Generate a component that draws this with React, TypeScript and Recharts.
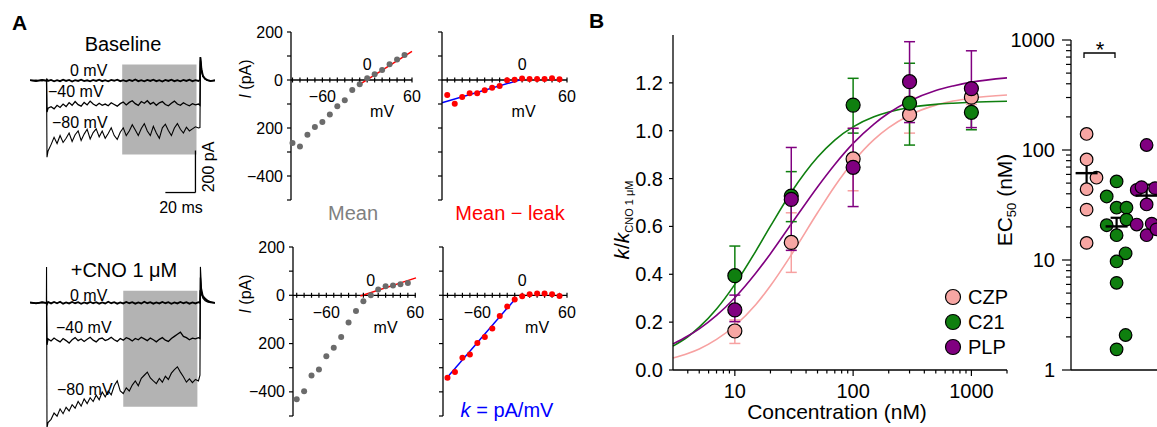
import React from "react";
import {
  ComposedChart,
  LineChart,
  Line,
  Scatter,
  XAxis,
  YAxis,
  ReferenceArea,
  ReferenceLine,
  ReferenceDot,
  ErrorBar,
} from "recharts";

const FONT = '"Liberation Sans", Arial, Helvetica, sans-serif';

// ---------------- Panel A: current traces ----------------
const TIME_MS = [
  0, 4, 8, 10.9, 11, 11.3, 12,
  14, 16, 18, 20, 22, 24, 26, 28, 30, 32, 34, 36, 38, 40, 42, 44, 46, 48, 50, 52, 54, 56, 58, 60,
  62, 64, 66, 68, 70, 72, 74, 76, 78, 80, 82, 84, 86, 88, 90, 92, 94, 96, 98, 100, 102, 104, 106, 108, 110, 112,
  113, 113.3, 114, 115, 116.5, 118, 120, 123,
];
const BASE_0MV = [
  2, -3, 3, 0, -4, 4, -2,
  3, -4, 2, -3, 4, -2, 3, -5, 2, -2, 4, -3, 1, -4, 3, -2, 4, -3, 2, -4, 3, -1, 4, -3, 2, -4, 3, -2, 5, -3,
  2, -4, 3, -2, 4, -3, 2, -5, 3, -2, 4, -3, 2, -4, 3, -2, 4, -3, 2, -2,
  3, 112, 55, 22, 8, 2, -3, 1,
];
const BASE_M40 = [
  1, -2, 2, -1, -3, -150, -132,
  -125, -135, -118, -128, -112, -124, -105, -118, -100, -115, -122, -104, -116, -98, -112, -120, -108, -118,
  -112, -120, -106, -114, -122, -110, -102, -116, -104, -96, -110, -118, -100, -108, -96, -112, -104, -118,
  -106, -100, -114, -120, -108, -98, -112, -118, -106, -114, -120, -110, -116, -112,
  -118, 95, 45, 18, 6, 1, -2, 0,
];
const BASE_M80 = [
  0, 2, -2, 1, -2, -365, -335,
  -305, -270, -300, -262, -295, -275, -250, -290, -258, -240, -285, -255, -232, -278, -248, -230, -268, -240,
  -275, -252, -225, -262, -280, -246, -225, -262, -240, -210, -235, -262, -228, -205, -240, -262, -218, -250,
  -275, -225, -208, -238, -262, -226, -205, -232, -250, -222, -240, -230, -220, -226,
  -224, 110, 52, 20, 7, 2, 0, 1,
];
const CNO_0MV = [
  2, -3, 2, -1, 3, -6, 4,
  -3, 4, -2, 5, -4, 2, -3, 4, -2, 3, -5, 2, -3, 4, -2, 3, -4, 2, -3, 5, -2, 3, -4, 2, -3, 4, -2, 3, -4, 2,
  -3, 5, -2, 3, -4, 2, -3, 4, -2, 3, -5, 2, -3, 4, -2, 3, -4, 2, -3, 3,
  0, 60, 42, 30, 20, 10, 4, 0,
];
const CNO_M40 = [
  1, -2, 3, 0, -2, -200, -172,
  -182, -168, -178, -186, -170, -180, -192, -176, -166, -180, -172, -184, -174, -164, -178, -186, -172, -168,
  -180, -174, -164, -176, -184, -170, -178, -166, -172, -182, -170, -176, -164, -172, -180, -168, -176, -186,
  -174, -166, -178, -184, -170, -160, -150, -140, -160, -166, -176, -168, -172, -166,
  -170, 120, 50, 22, 10, 4, 1, 0,
];
const CNO_M80 = [
  0, -2, 2, 0, 171, -595, -570,
  -555, -525, -540, -505, -528, -498, -515, -485, -502, -470, -492, -458, -480, -452, -470, -440, -462, -425,
  -448, -420, -438, -395, -372, -420, -432, -405, -420, -392, -372, -395, -360, -345, -330, -358, -372, -385,
  -360, -378, -350, -365, -335, -318, -305, -330, -352, -378, -362, -380, -365, -372,
  -345, 171, 70, 35, 15, 6, 2, 0,
];
const BASE_WINDOW_MS = [61.3, 110.7];
const BASE_WINDOW_PA = [76, -352];
const CNO_WINDOW_MS = [62, 111.3];
const CNO_WINDOW_PA = [57, -495];
const SCALE_MS = [90, 110];
const SCALE_PA = [-533, -333];

// ---------------- Panel A: I-V relations ----------------
const IV_MV = [-100, -90, -80, -70, -60, -50, -40, -30, -20, -10, 0, 10, 20, 30, 40, 50];
const BASE_MEAN = [-263, -277, -228, -196, -175, -144, -109, -84, -42, -18, 7, 24, 42, 66, 85, 104];
const BASE_MEAN_LEAK = [-63, -99, -71, -55, -55, -43, -32, -25, -1, 1, 6, 4, 4, 4, 7, 3];
const CNO_MEAN = [-431, -397, -332, -307, -252, -217, -173, -113, -65, -25, 0, 24, 37, 41, 46, 51];
const CNO_MEAN_LEAK = [-342, -318, -259, -245, -198, -173, -138, -86, -46, -17, -4, 4, 7, 7, 4, -3];
const BASE_LEAK_FIT_MV = [-10, 60];
const BASE_LEAK_FIT_PA = [-18, 119];
const BASE_K_FIT_MV = [-107, 0];
const BASE_K_FIT_PA = [-95, 3];
const CNO_LEAK_FIT_MV = [-14, 61];
const CNO_LEAK_FIT_PA = [-3, 72];
const CNO_K_FIT_MV = [-103, -9];
const CNO_K_FIT_PA = [-350, -14];
const IV_X_TICKS = [-100, -90, -80, -70, -60, -50, -40, -30, -20, -10, 0, 10, 20, 30, 40, 50, 60];
const IV_Y_TICKS = [200, 100, 0, -100, -200, -300, -400, -500];
const IV_Y_LABELS: Record<string, string> = { "200": "200", "0": "0", "-200": "200", "-400": "\u2212400" };

// ---------------- Panel B: concentration-response ----------------
const CONC_NM = [10, 30, 100, 300, 1000];
const CZP_K = [0.163, 0.533, 0.882, 1.067, 1.14];
const CZP_LO = [0.111, 0.408, 0.749, 0.99, 1.11];
const CZP_HI = [0.209, 0.657, 1.01, 1.14, 1.17];
const C21_K = [0.394, 0.727, 1.107, 1.115, 1.077];
const C21_LO = [0.27, 0.62, 0.99, 0.94, 1.004];
const C21_HI = [0.518, 0.829, 1.219, 1.282, 1.16];
const PLP_K = [0.251, 0.713, 0.847, 1.205, 1.176];
const PLP_LO = [0.202, 0.5, 0.683, 1.034, 1.013];
const PLP_HI = [0.313, 0.93, 1.01, 1.372, 1.334];
const FIT_CONC = [3, 4, 5, 7, 10, 15, 20, 30, 50, 70, 100, 150, 200, 300, 500, 700, 1000, 2000];
const CZP_FIT = [0.05, 0.069, 0.088, 0.128, 0.185, 0.273, 0.352, 0.481, 0.657, 0.768, 0.87, 0.963, 1.013, 1.065, 1.107, 1.124, 1.136, 1.149];
const C21_FIT = [0.1, 0.139, 0.179, 0.255, 0.358, 0.496, 0.601, 0.743, 0.889, 0.961, 1.016, 1.058, 1.078, 1.097, 1.11, 1.115, 1.119, 1.123];
const PLP_FIT = [0.109, 0.142, 0.172, 0.228, 0.302, 0.404, 0.486, 0.61, 0.765, 0.859, 0.947, 1.028, 1.074, 1.124, 1.168, 1.187, 1.203, 1.221];
const B_X_TICKS = [4, 5, 6, 7, 8, 9, 10, 20, 30, 40, 50, 60, 70, 80, 90, 100, 200, 300, 400, 500, 600, 700, 800, 900, 1000, 2000];
const B_X_LABELED = [10, 100, 1000];
const B_Y_TICKS = [0, 0.2, 0.4, 0.6, 0.8, 1.0, 1.2];

// ---------------- Panel B: EC50 ----------------
const AGONISTS = ["CZP", "C21", "PLP"];
const AGONIST_FILL = ["#f7a6a3", "#0f7f0f", "#800080"];
const CURVE_STROKE = ["#f7a1a1", "#0f7f0f", "#800080"];
const CZP_EC50 = [140, 82, 56, 44, 28.7, 14.3];
const CZP_EC50_JITTER = [0, 0, 0.33, 0, 0, 0];
const C21_EC50 = [51.8, 37.8, 29.9, 29.9, 23.3, 20.7, 16.8, 11.5, 9.7, 6.2, 2.08, 1.54];
const C21_EC50_JITTER = [0, -0.33, 0, 0.33, 0.33, -0.33, 0, 0.3, 0, 0, 0.3, 0];
const PLP_EC50 = [111, 43.4, 46, 45, 32, 21, 21.4, 16.8, 19];
const PLP_EC50_JITTER = [0, -0.33, -0.17, 0.28, 0, -0.33, 0.17, 0, 0.33];
const EC50_MEAN = [61.6, 20.2, 38.5];
const EC50_SEM_LO = [43.4, 16.0, 30.3];
const EC50_SEM_HI = [78, 24.2, 48.4];
const EC50_Y_TICKS = [
  1, 2, 3, 4, 5, 6, 7, 8, 9, 10, 20, 30, 40, 50, 60, 70, 80, 90, 100, 200, 300, 400, 500, 600, 700, 800, 900, 1000,
];
const EC50_Y_LABELED = [1, 10, 100, 1000];

type Pt = { x: number; y: number };
const zip = (xs: number[], ys: number[]): Pt[] => xs.map((x, i) => ({ x, y: ys[i] }));

// ---------------- Trace panel ----------------
function TracePanel(props: {
  left: number; top: number; width: number; height: number;
  yDomain: [number, number];
  i0: number[]; i40: number[]; i80: number[];
  winMs: number[]; winPa: number[];
  scaleBar?: boolean;
}) {
  const { left, top, width, height, yDomain, i0, i40, i80, winMs, winPa, scaleBar } = props;
  const data = TIME_MS.map((t, i) => ({ t, v0: i0[i], v40: i40[i], v80: i80[i] }));
  return (
    <div style={{ position: "absolute", left, top, width, height }}>
      <LineChart width={width} height={height} data={data} margin={{ top: 0, right: 0, bottom: 0, left: 0 }}>
        <XAxis type="number" dataKey="t" domain={[0, 123]} hide />
        <YAxis type="number" domain={yDomain} hide />
        <ReferenceArea x1={winMs[0]} x2={winMs[1]} y1={winPa[0]} y2={winPa[1]} fill="#b3b3b3" fillOpacity={1} stroke="none" />
        <Line dataKey="v80" stroke="#000" strokeWidth={1.1} dot={false} isAnimationActive={false} />
        <Line dataKey="v40" stroke="#000" strokeWidth={1.3} dot={false} isAnimationActive={false} />
        <Line dataKey="v0" stroke="#000" strokeWidth={1.8} dot={false} isAnimationActive={false} />
        {scaleBar && (
          <ReferenceLine
            segment={[{ x: SCALE_MS[0], y: SCALE_PA[0] }, { x: SCALE_MS[1], y: SCALE_PA[0] }]}
            stroke="#000" strokeWidth={1.3}
          />
        )}
        {scaleBar && (
          <ReferenceLine
            segment={[{ x: SCALE_MS[1], y: SCALE_PA[0] }, { x: SCALE_MS[1], y: SCALE_PA[1] }]}
            stroke="#000" strokeWidth={1.3}
          />
        )}
      </LineChart>
    </div>
  );
}

// ---------------- IV panel ----------------
function IVPanel(props: {
  axisX: number; top: number; yw: number; plotW: number; plotH: number;
  xDomain: [number, number];
  points: Pt[]; pointColor: string; fit: Pt[]; fitColor: string;
  showYLabels: boolean;
  xLabels: { v: number; text: string; dy: number }[];
}) {
  const { axisX, top, yw, plotW, plotH, xDomain, points, pointColor, fit, fitColor, showYLabels, xLabels } = props;
  const W = yw + plotW + 10;
  const H = plotH + 20;
  const yTick = (p: any) => {
    const v = p.payload.value;
    const lab = showYLabels ? IV_Y_LABELS[String(v)] : undefined;
    return (
      <g>
        <line x1={p.x - 4} x2={p.x} y1={p.y} y2={p.y} stroke="#000" strokeWidth={1.2} />
        {lab !== undefined && (
          <text x={p.x - 8} y={p.y} textAnchor="end" dominantBaseline="central" fontSize={16} fontFamily={FONT} fill="#000">
            {lab}
          </text>
        )}
      </g>
    );
  };
  return (
    <div style={{ position: "absolute", left: axisX - yw, top: top - 10, width: W, height: H }}>
      <ComposedChart width={W} height={H} margin={{ top: 10, right: 10, bottom: 10, left: 0 }}>
        <XAxis type="number" dataKey="x" domain={xDomain} hide />
        <YAxis
          type="number" dataKey="y" domain={[-500, 200]} ticks={IV_Y_TICKS} interval={0} width={yw}
          tickSize={0} tickMargin={0} tickLine={false}
          axisLine={{ stroke: "#000", strokeWidth: 1.3 }} tick={yTick}
        />
        <ReferenceLine y={0} stroke="#000" strokeWidth={1.3} />
        {IV_X_TICKS.map((v) => (
          <ReferenceDot
            key={"t" + v} x={v} y={0} r={2}
            shape={(p: any) => (
              <line x1={p.cx} x2={p.cx} y1={p.cy - 2.5} y2={p.cy + 2.5} stroke="#000" strokeWidth={1.2} />
            )}
          />
        ))}
        {xLabels.map((l) => (
          <ReferenceDot
            key={"l" + l.text} x={l.v} y={0} r={2}
            shape={(p: any) => (
              <text x={p.cx} y={p.cy + l.dy} textAnchor="middle" dominantBaseline="central" fontSize={16} fontFamily={FONT} fill="#000">
                {l.text}
              </text>
            )}
          />
        ))}
        <Scatter
          data={points} isAnimationActive={false}
          shape={(p: any) => <circle cx={p.cx} cy={p.cy} r={3} fill={pointColor} />}
        />
        <Line data={fit} dataKey="y" stroke={fitColor} strokeWidth={1.5} dot={false} isAnimationActive={false} />
      </ComposedChart>
    </div>
  );
}

// ---------------- Concentration-response panel ----------------
function DoseResponse() {
  const W = 80 + 334 + 10;
  const H = 10 + 335 + 40;
  const series = [
    { k: CZP_K, lo: CZP_LO, hi: CZP_HI, fit: CZP_FIT },
    { k: C21_K, lo: C21_LO, hi: C21_HI, fit: C21_FIT },
    { k: PLP_K, lo: PLP_LO, hi: PLP_HI, fit: PLP_FIT },
  ];
  const xTick = (p: any) => {
    const v = p.payload.value;
    const major = B_X_LABELED.includes(v);
    return (
      <g>
        <line x1={p.x} x2={p.x} y1={p.y} y2={p.y + (major ? 6 : 3.5)} stroke="#000" strokeWidth={1.2} />
        {major && (
          <text x={p.x} y={p.y + 21} textAnchor="middle" dominantBaseline="central" fontSize={20} fontFamily={FONT} fill="#000">
            {v}
          </text>
        )}
      </g>
    );
  };
  const yTick = (p: any) => (
    <g>
      <line x1={p.x - 4} x2={p.x} y1={p.y} y2={p.y} stroke="#000" strokeWidth={1.2} />
      <text x={p.x - 10} y={p.y} textAnchor="end" dominantBaseline="central" fontSize={20} fontFamily={FONT} fill="#000">
        {Number(p.payload.value).toFixed(1)}
      </text>
    </g>
  );
  return (
    <div style={{ position: "absolute", left: 673 - 80, top: 25, width: W, height: H }}>
      <ComposedChart width={W} height={H} margin={{ top: 10, right: 10, bottom: 0, left: 0 }}>
        <XAxis
          type="number" dataKey="x" scale="log" domain={[3, 2000]} ticks={B_X_TICKS} interval={0}
          tickSize={0} tickMargin={0} tickLine={false} height={40}
          axisLine={{ stroke: "#000", strokeWidth: 1.3 }} tick={xTick}
        />
        <YAxis
          type="number" dataKey="y" domain={[0, 1.4]} ticks={B_Y_TICKS} interval={0} width={80}
          tickSize={0} tickMargin={0} tickLine={false}
          axisLine={{ stroke: "#000", strokeWidth: 1.3 }} tick={yTick}
        />
        {series.map((s, si) => (
          <Line
            key={"fit" + si} data={zip(FIT_CONC, s.fit)} dataKey="y" type="monotone"
            stroke={CURVE_STROKE[si]} strokeWidth={1.6} dot={false} isAnimationActive={false}
          />
        ))}
        {series.map((s, si) => (
          <Scatter
            key={"pts" + si}
            data={CONC_NM.map((c, i) => ({ x: c, y: s.k[i], err: [s.k[i] - s.lo[i], s.hi[i] - s.k[i]] }))}
            isAnimationActive={false}
            shape={(p: any) => (
              <circle cx={p.cx} cy={p.cy} r={7} fill={AGONIST_FILL[si]} stroke="#000" strokeWidth={1.2} />
            )}
          >
            <ErrorBar dataKey="err" direction="y" width={5.5} stroke={CURVE_STROKE[si]} strokeWidth={1.5} />
          </Scatter>
        ))}
      </ComposedChart>
    </div>
  );
}

// ---------------- EC50 panel ----------------
function EC50Panel() {
  const plotW = 91;
  const W = 60 + plotW;
  const H = 12 + 330 + 1 + 10;
  const groups = [
    { vals: CZP_EC50, jit: CZP_EC50_JITTER },
    { vals: C21_EC50, jit: C21_EC50_JITTER },
    { vals: PLP_EC50, jit: PLP_EC50_JITTER },
  ];
  const yTick = (p: any) => {
    const v = p.payload.value;
    const major = EC50_Y_LABELED.includes(v);
    return (
      <g>
        <line x1={p.x - (major ? 9 : 5)} x2={p.x} y1={p.y} y2={p.y} stroke="#000" strokeWidth={1.2} />
        {major && (
          <text x={p.x - 16} y={p.y} textAnchor="end" dominantBaseline="central" fontSize={20} fontFamily={FONT} fill="#000">
            {v}
          </text>
        )}
      </g>
    );
  };
  return (
    <div style={{ position: "absolute", left: 1071 - 60, top: 28, width: W, height: H }}>
      <ComposedChart width={W} height={H} margin={{ top: 12, right: 0, bottom: 10, left: 0 }}>
        <XAxis
          type="number" dataKey="x" domain={[-0.52, -0.52 + plotW / 30]} tick={false} tickLine={false} height={1}
          axisLine={{ stroke: "#000", strokeWidth: 1.3 }}
        />
        <YAxis
          type="number" dataKey="y" scale="log" domain={[1, 1000]} ticks={EC50_Y_TICKS} interval={0} width={60}
          tickSize={0} tickMargin={0} tickLine={false}
          axisLine={{ stroke: "#000", strokeWidth: 1.3 }} tick={yTick}
        />
        {groups.map((g, gi) => (
          <Scatter
            key={"g" + gi}
            data={g.vals.map((v, i) => ({ x: gi + g.jit[i], y: v }))}
            isAnimationActive={false}
            shape={(p: any) => (
              <circle cx={p.cx} cy={p.cy} r={6.3} fill={AGONIST_FILL[gi]} stroke="#000" strokeWidth={1.2} />
            )}
          />
        ))}
        <Scatter
          data={EC50_MEAN.map((m, i) => ({ x: i, y: m, err: [m - EC50_SEM_LO[i], EC50_SEM_HI[i] - m] }))}
          isAnimationActive={false}
          shape={(p: any) => (
            <line x1={p.cx - 11} x2={p.cx + 11} y1={p.cy} y2={p.cy} stroke="#000" strokeWidth={2.4} />
          )}
        >
          <ErrorBar dataKey="err" direction="y" width={6} stroke="#000" strokeWidth={2.2} />
        </Scatter>
      </ComposedChart>
    </div>
  );
}

// ---------------- Annotations ----------------
function Overlay() {
  const t = { fontFamily: FONT, fill: "#000" } as const;
  return (
    <svg width={1157} height={427} style={{ position: "absolute", left: 0, top: 0, pointerEvents: "none" }}>
      <text x={12} y={30} fontSize={21} fontWeight="bold" {...t}>A</text>
      <text x={589} y={28} fontSize={21} fontWeight="bold" {...t}>B</text>

      <text x={123} y={51} fontSize={20} textAnchor="middle" {...t}>Baseline</text>
      <text x={124} y={277} fontSize={20} textAnchor="middle" {...t}>+CNO 1 μM</text>

      <text x={70} y={76} fontSize={16} {...t}>0 mV</text>
      <text x={48} y={97} fontSize={16} {...t}>−40 mV</text>
      <text x={52} y={128} fontSize={16} {...t}>−80 mV</text>
      <text x={70} y={301} fontSize={16} {...t}>0 mV</text>
      <text x={56} y={333} fontSize={16} {...t}>−40 mV</text>
      <text x={57} y={395} fontSize={16} {...t}>−80 mV</text>

      <text x={181} y={213} fontSize={16} textAnchor="middle" {...t}>20 ms</text>
      <text transform="translate(214,167) rotate(-90)" fontSize={16} textAnchor="middle" {...t}>200 pA</text>

      <text transform="translate(251,79) rotate(-90)" fontSize={16} textAnchor="middle" {...t}>
        <tspan fontStyle="italic">I</tspan> (pA)
      </text>
      <text transform="translate(251,294) rotate(-90)" fontSize={16} textAnchor="middle" {...t}>
        <tspan fontStyle="italic">I</tspan> (pA)
      </text>

      <text x={353} y={220} fontSize={20} textAnchor="middle" fontFamily={FONT} fill="#808080">Mean</text>
      <text x={510} y={220} fontSize={20} textAnchor="middle" fontFamily={FONT} fill="#ff0000">Mean − leak</text>
      <text x={507} y={417} fontSize={20} textAnchor="middle" fontFamily={FONT} fill="#0000ff">
        <tspan fontStyle="italic">k</tspan> = pA/mV
      </text>

      <text transform="translate(629,220) rotate(-90)" fontSize={21} textAnchor="middle" {...t}>
        <tspan fontStyle="italic">k</tspan>/<tspan fontStyle="italic">k</tspan>
        <tspan fontSize={11} dy={4}>CNO 1 μM</tspan>
      </text>
      <text x={837} y={419} fontSize={21} textAnchor="middle" {...t}>Concentration (nM)</text>

      {AGONISTS.map((name, i) => (
        <g key={name}>
          <circle cx={953} cy={297 + i * 25} r={7.5} fill={AGONIST_FILL[i]} stroke="#000" strokeWidth={1.2} />
          <text x={968} y={304 + i * 25} fontSize={20} {...t}>{name}</text>
        </g>
      ))}

      <text transform="translate(1012,200) rotate(-90)" fontSize={21} textAnchor="middle" {...t}>
        EC<tspan fontSize={13} dy={4}>50</tspan><tspan dy={-4}> (nM)</tspan>
      </text>

      <path d="M1084 58 V53 H1115 V58" fill="none" stroke="#000" strokeWidth={1.3} />
      <text x={1100} y={57} fontSize={22} textAnchor="middle" {...t}>*</text>
    </svg>
  );
}

export default function App() {
  return (
    <div
      style={{
        position: "fixed", left: 0, top: 0, width: 1157, height: 427,
        overflow: "hidden", background: "#fff", fontFamily: FONT,
      }}
    >
      <TracePanel
        left={30} top={48.5} width={185} height={145} yDomain={[-540, 150]}
        i0={BASE_0MV} i40={BASE_M40} i80={BASE_M80}
        winMs={BASE_WINDOW_MS} winPa={BASE_WINDOW_PA} scaleBar
      />
      <TracePanel
        left={30} top={265.2} width={185} height={163.8} yDomain={[-600, 180]}
        i0={CNO_0MV} i40={CNO_M40} i80={CNO_M80}
        winMs={CNO_WINDOW_MS} winPa={CNO_WINDOW_PA}
      />

      <IVPanel
        axisX={291} top={32} yw={52} plotW={121} plotH={168} xDomain={[-102, 60]}
        points={zip(IV_MV, BASE_MEAN)} pointColor="#6b6b6b"
        fit={zip(BASE_LEAK_FIT_MV, BASE_LEAK_FIT_PA)} fitColor="#ff0000" showYLabels
        xLabels={[{ v: -60, text: "\u221260", dy: 16 }, { v: 60, text: "60", dy: 16 }, { v: 0, text: "0", dy: -16 }, { v: 20, text: "mV", dy: 31 }]}
      />
      <IVPanel
        axisX={442} top={32} yw={12} plotW={125} plotH={168} xDomain={[-107, 60]}
        points={zip(IV_MV, BASE_MEAN_LEAK)} pointColor="#ff0000"
        fit={zip(BASE_K_FIT_MV, BASE_K_FIT_PA)} fitColor="#0000ff" showYLabels={false}
        xLabels={[{ v: 60, text: "60", dy: 16 }, { v: 0, text: "0", dy: -16 }, { v: 2, text: "mV", dy: 31 }]}
      />
      <IVPanel
        axisX={293} top={247} yw={52} plotW={123} plotH={169} xDomain={[-105, 61]}
        points={zip(IV_MV, CNO_MEAN)} pointColor="#6b6b6b"
        fit={zip(CNO_LEAK_FIT_MV, CNO_LEAK_FIT_PA)} fitColor="#ff0000" showYLabels
        xLabels={[{ v: -60, text: "\u221260", dy: 17 }, { v: 60, text: "60", dy: 17 }, { v: 0, text: "0", dy: -15 }, { v: 20, text: "mV", dy: 32 }]}
      />
      <IVPanel
        axisX={443} top={247} yw={12} plotW={124} plotH={169} xDomain={[-106, 60]}
        points={zip(IV_MV, CNO_MEAN_LEAK)} pointColor="#ff0000"
        fit={zip(CNO_K_FIT_MV, CNO_K_FIT_PA)} fitColor="#0000ff" showYLabels={false}
        xLabels={[{ v: -60, text: "\u221260", dy: 17 }, { v: 60, text: "60", dy: 17 }, { v: 0, text: "0", dy: -15 }, { v: 20, text: "mV", dy: 32 }]}
      />

      <DoseResponse />
      <EC50Panel />
      <Overlay />
    </div>
  );
}
